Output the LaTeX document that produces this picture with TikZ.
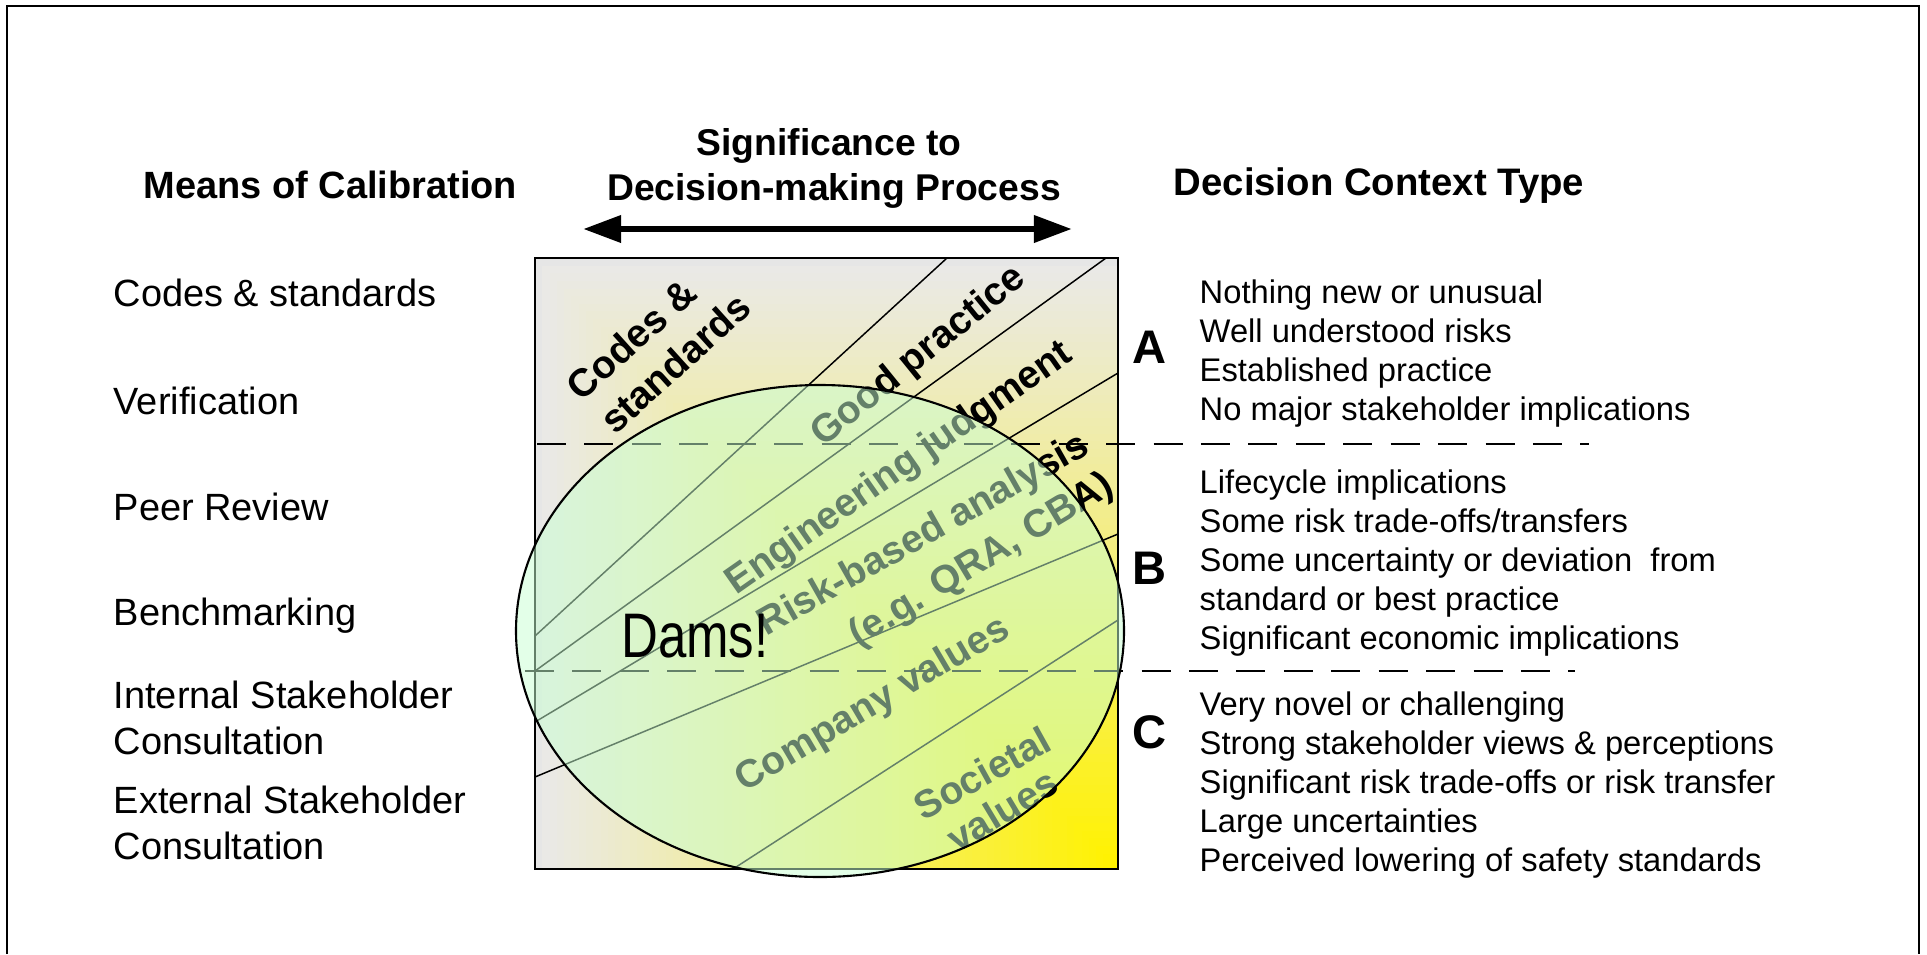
\documentclass[tikz,border=0pt]{standalone}
\usepackage{fontspec}
\setmainfont{Liberation Sans}
\newfontfamily\damsfont[FakeStretch=0.81]{Liberation Sans}
\usetikzlibrary{arrows.meta}

\definecolor{sqgray}{HTML}{E6E6E6}
\definecolor{damfill}{RGB}{200,255,210}

\tikzset{
  head/.style={font=\fontsize{10.8}{13}\selectfont\bfseries, inner sep=0pt},
  means/.style={font=\fontsize{10.8}{13}\selectfont, anchor=base west, inner sep=0pt},
  ctx/.style={font=\fontsize{9.3}{11.2}\selectfont, anchor=base west, inner sep=0pt},
  ltr/.style={font=\fontsize{13.4}{16}\selectfont\bfseries, anchor=base, inner sep=0pt},
  zone/.style={font=\fontsize{11.1}{13.3}\selectfont\bfseries, inner sep=0pt},
  band/.style={line width=0.42pt},
  divider/.style={dash pattern=on 0.29cm off 0.184cm, line width=0.45pt},
  sigarrow/.style={{Triangle[length=0.38cm,width=0.26cm]}-{Triangle[length=0.38cm,width=0.26cm]}, line width=1.9pt}
}

\begin{document}
\begin{tikzpicture}[x=0.01cm, y=-0.01cm]
  \useasboundingbox (0,0) rectangle (1927,954);
  \draw[line width=0.6pt] (7,954) -- (7,6) -- (1919,6) -- (1919,954); % frame

  % headings
  \node[head, anchor=base west] (hmeans) at (143,198) {Means of Calibration};
  \node[head, font=\fontsize{10.6}{12.7}\selectfont\bfseries, anchor=base] (hsig1) at (829,155) {Significance to};
  \node[head, font=\fontsize{10.6}{12.7}\selectfont\bfseries, anchor=base] (hsig2) at (834,200) {Decision-making Process};
  \node[head, font=\fontsize{10.9}{13}\selectfont\bfseries, anchor=base west] (hctx) at (1173,195) {Decision Context Type};
  \coordinate (sigL) at (583,229);
  \coordinate (sigR) at (1072,229);
  \draw[sigarrow] (sigL) -- (sigR);

  % means of calibration
  \foreach \yy/\txt [count=\i] in {306/Codes \& standards, 414/Verification, 520/Peer Review, 625/Benchmarking, 708/Internal Stakeholder, 754/Consultation, 813/External Stakeholder, 859/Consultation}
    \node[means] (cal\i) at (113,\yy) {\txt};

  % square, gray into yellow from the lower right corner
  \foreach \k in {0,...,79} {
    \pgfmathsetmacro\s{1-\k/80}
    \pgfmathsetmacro\t{100*\k/79}
    \fill[yellow!\t!sqgray] ({1118-583*\s},{869-611*\s}) rectangle (1118,869);
  }
  \draw[band] (947,258) -- (535,636); % codes--good
  \draw[band] (1106,258) -- (535,671); % good--eng
  \draw[band] (1118,373) -- (535,722); % eng--risk
  \draw[band] (1118,534) -- (535,777); % risk--company
  \draw[band] (1118,620) -- (733,869); % company--societal
  \draw[divider] (537,444) -- (1589,444); % A--B
  \draw[divider] (525,671) -- (1575,671); % B--C

  \node[zone, rotate=42] (codes1) at (631,339) {Codes \&};
  \node[zone, rotate=42] (codes2) at (675,363) {standards};
  \node[zone, rotate=39] (good) at (919,357) {Good practice};
  \node[zone, rotate=35] (eng) at (900,469) {Engineering judgment};
  \node[zone, rotate=29.5] (risk1) at (924,536) {Risk-based analysis};
  \node[zone, rotate=31] (risk2) at (982,561) {(e.g. QRA, CBA)};
  \node[zone, rotate=30.5] (comp) at (873,705) {Company values};
  \node[zone, rotate=29] (soc1) at (982,773) {Societal};
  \node[zone, rotate=31] (soc2) at (1002,810) {values};
  \draw[line width=0.55pt] (535,258) rectangle (1118,869);

  % ellipse
  \fill[damfill, fill opacity=0.5] (820,631) ellipse [x radius=304, y radius=246];
  \draw[line width=0.6pt] (820,631) ellipse [x radius=304, y radius=246];
  \node[font=\damsfont\fontsize{17.9}{20}\selectfont] (dams) at (695,636) {Dams!};

  % decision context
  \node[ltr] (ctxA) at (1150,363) {A};
  \node[ltr] (ctxB) at (1150,584) {B};
  \node[ltr] (ctxC) at (1150,748) {C};
  \foreach \txt [count=\i] in {Nothing new or unusual, Well understood risks, Established practice, No major stakeholder implications}
    \node[ctx] (a\i) at (1199,{303+39.3*(\i-1)}) {\txt};
  \foreach \txt [count=\i] in {Lifecycle implications, Some risk trade-offs/transfers, Some uncertainty or deviation\ \ from, standard or best practice, Significant economic implications}
    \node[ctx] (b\i) at (1199,{493+39*(\i-1)}) {\txt};
  \foreach \txt [count=\i] in {Very novel or challenging, Strong stakeholder views \& perceptions, Significant risk trade-offs or risk transfer, Large uncertainties, Perceived lowering of safety standards}
    \node[ctx] (c\i) at (1199,{715+39*(\i-1)}) {\txt};
\end{tikzpicture}
\end{document}
